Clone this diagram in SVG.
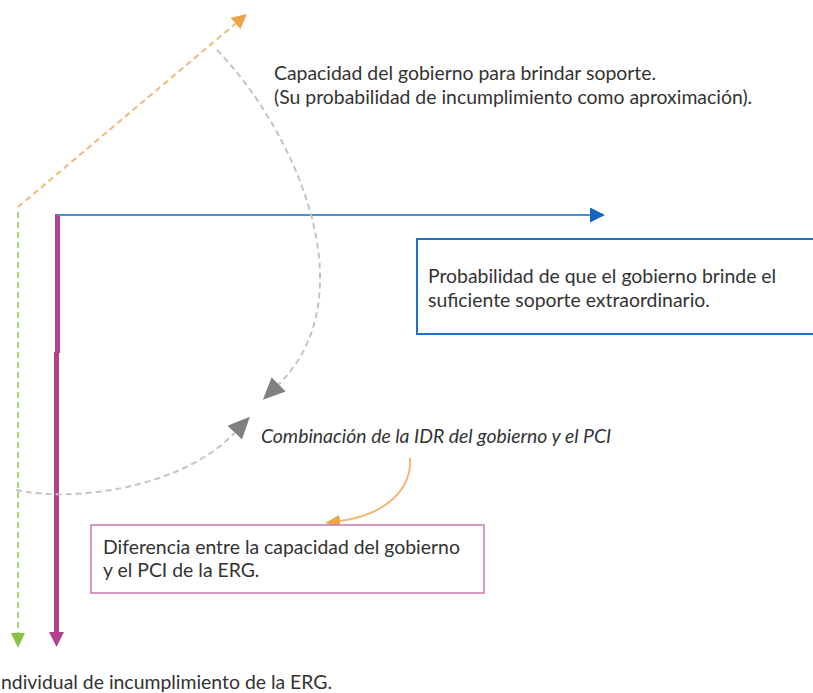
<svg xmlns="http://www.w3.org/2000/svg" width="813" height="693" viewBox="0 0 813 693">
<style>
text{font-family:Lato,"Noto Sans",sans-serif;font-size:19.4px;fill:#333}
.it{font-style:italic}
.gd{fill:none;stroke:#c4c4c4;stroke-width:2;stroke-dasharray:6 4}
.mag{fill:none;stroke:#b4418e;stroke-width:5}
</style>
<defs>
<marker id="mg" markerUnits="userSpaceOnUse" markerWidth="24" markerHeight="24" refX="0" refY="10" orient="auto"><path d="M0,0L22,10L0,20Z" fill="#808080"/></marker>
<marker id="mo" markerUnits="userSpaceOnUse" markerWidth="18" markerHeight="18" refX="0" refY="7.5" orient="auto"><path d="M0,0L15,7.5L0,15Z" fill="#eba446"/></marker>
<marker id="mo2" markerUnits="userSpaceOnUse" markerWidth="18" markerHeight="18" refX="0" refY="6" orient="auto"><path d="M0,0L15,6L0,12Z" fill="#eba446"/></marker>
<marker id="mb" markerUnits="userSpaceOnUse" markerWidth="18" markerHeight="18" refX="0" refY="7.5" orient="auto"><path d="M0,0L15,7.5L0,15Z" fill="#1565c0"/></marker>
<marker id="mgr" markerUnits="userSpaceOnUse" markerWidth="18" markerHeight="18" refX="0" refY="7" orient="auto"><path d="M0,0L15,7L0,14Z" fill="#8bc34a"/></marker>
<marker id="mm" markerUnits="userSpaceOnUse" markerWidth="18" markerHeight="18" refX="0" refY="7.5" orient="auto"><path d="M0,0L15,7.5L0,15Z" fill="#b4418e"/></marker>
</defs>
<g id="connectors">
<path d="M18,207L235.5,23.6" fill="none" stroke="#f2b878" stroke-width="2" stroke-dasharray="6 4" marker-end="url(#mo)"/>
<path d="M18,212L18,633" fill="none" stroke="#a5d872" stroke-width="2" stroke-dasharray="6 4" marker-end="url(#mgr)"/>
<path class="mag" d="M57.5,214L57.5,353"/>
<path class="mag" d="M56.5,352L56.5,632" marker-end="url(#mm)"/>
<path d="M57,215L590,215" fill="none" stroke="#4a90d9" stroke-width="2" marker-end="url(#mb)"/>
<path class="gd" d="M217,50C294.5,130 369,295.5 278.6,384.4" marker-end="url(#mg)"/>
<path class="gd" d="M16,490C70,502 180,490 234.7,432.7" marker-end="url(#mg)"/>
<path d="M410,458C412,490 385,515 340,521" fill="none" stroke="#f2b878" stroke-width="2" marker-end="url(#mo2)"/>
</g>
<g id="label-capacidad">
<text x="274" y="80">Capacidad del gobierno para brindar soporte.</text>
<text x="274" y="104">(Su probabilidad de incumplimiento como aproximación).</text>
</g>
<g id="node-probabilidad">
<rect x="417" y="239" width="410" height="95" fill="#fff" stroke="#1a73c8" stroke-width="2"/>
<text x="428" y="283">Probabilidad de que el gobierno brinde el</text>
<text x="428" y="307">suficiente soporte extraordinario.</text>
</g>
<g id="label-combinacion">
<text class="it" x="261" y="443">Combinación de la IDR del gobierno y el PCI</text>
</g>
<g id="node-diferencia">
<rect x="91" y="525" width="393" height="68" fill="#fff" stroke="#c878b0" stroke-width="1.5"/>
<text x="103" y="554">Diferencia entre la capacidad del gobierno</text>
<text x="103" y="577">y el PCI de la ERG.</text>
</g>
<g id="label-individual">
<text x="1" y="689">ndividual de incumplimiento de la ERG.</text>
</g>
</svg>
